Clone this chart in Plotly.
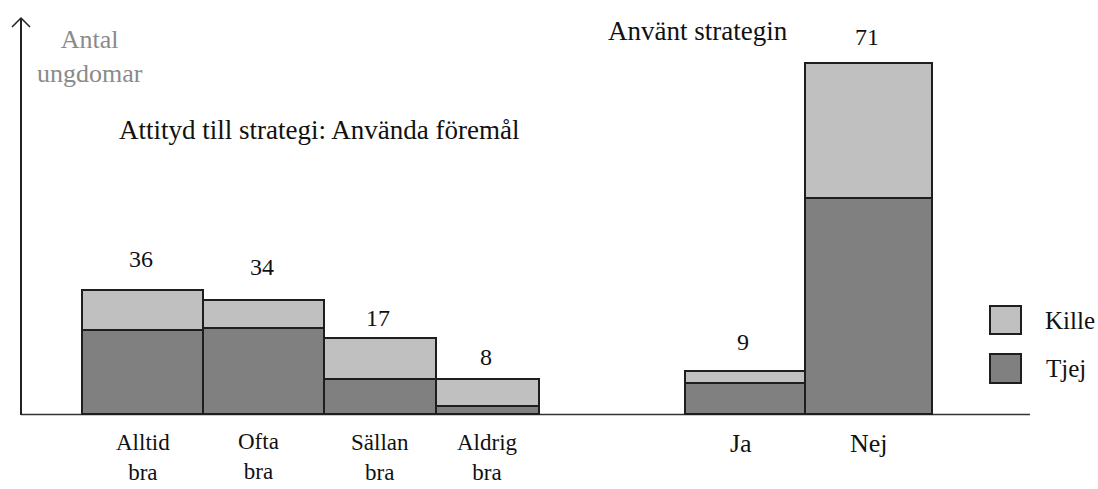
import plotly.graph_objects as go

# ---------------- data ----------------
categories = ["Alltid<br>bra", "Ofta<br>bra", "Sällan<br>bra", "Aldrig<br>bra", "Ja", "Nej"]
# bar segment heights as drawn in the picture (units where the "Nej" bar = 71)
tjej_values = [16.8, 17.2, 6.9, 1.6, 6.1, 43.5]
kille_values = [8.1, 5.7, 8.3, 5.3, 2.4, 27.5]
total_labels = ["36", "34", "17", "8", "9", "71"]
series_names = ["Tjej", "Kille"]

# ---------------- layout constants ----------------
W, H = 1098, 489
FONT = "Liberation Serif, Times New Roman, serif"
FS = 25
TJEJ_COLOR = "#808080"
KILLE_COLOR = "#c0c0c0"
EDGE = "#1e1e1e"

bar_left = [82, 203, 324, 436, 685, 805]
bar_right = [203, 324, 436, 539, 805, 932]
bar_center = [(a + b) / 2 for a, b in zip(bar_left, bar_right)]
bar_width = [b - a for a, b in zip(bar_left, bar_right)]

BASE_PX = 413.5          # pixel row of value 0
PX_PER_UNIT = 351 / 71   # vertical scale
y_min = -(H - BASE_PX) / PX_PER_UNIT
y_max = BASE_PX / PX_PER_UNIT

label_shift = [31, 33, 20, 22, 29, 26]        # px above bar top
cat_label_y = [457, 456, 457, 457, 443, 443]  # pixel centre of category labels
cat_label_dx = [0, -5, 0, 0, -4, 0]


def fx(p):
    return p / W


def fy(p):
    return 1 - p / H


fig = go.Figure()
fig.add_trace(go.Bar(
    x=bar_center, y=tjej_values, width=bar_width, name=series_names[0],
    marker=dict(color=TJEJ_COLOR, line=dict(color=EDGE, width=2)),
    showlegend=False, hoverinfo="skip"))
fig.add_trace(go.Bar(
    x=bar_center, y=kille_values, width=bar_width, name=series_names[1],
    marker=dict(color=KILLE_COLOR, line=dict(color=EDGE, width=2)),
    showlegend=False, hoverinfo="skip"))

shapes = []
# y axis line with open arrow head
shapes.append(dict(type="line", xref="paper", yref="paper",
                   x0=fx(21), x1=fx(21), y0=fy(415), y1=fy(18),
                   line=dict(color="#222222", width=2)))
shapes.append(dict(type="path", xref="paper", yref="paper",
                   path=f"M {fx(12)},{fy(27)} L {fx(21)},{fy(18)} L {fx(30)},{fy(27)}",
                   line=dict(color="#222222", width=1.5)))
# x axis line
shapes.append(dict(type="line", xref="paper", yref="paper",
                   x0=fx(21), x1=fx(1030), y0=fy(414.5), y1=fy(414.5),
                   line=dict(color="#333333", width=1.5), layer="below"))
# legend boxes
shapes.append(dict(type="rect", xref="paper", yref="paper",
                   x0=fx(990), x1=fx(1021), y0=fy(334), y1=fy(306),
                   fillcolor=KILLE_COLOR, line=dict(color=EDGE, width=2)))
shapes.append(dict(type="rect", xref="paper", yref="paper",
                   x0=fx(990), x1=fx(1021), y0=fy(383), y1=fy(354),
                   fillcolor=TJEJ_COLOR, line=dict(color=EDGE, width=2)))

ann = []
for i, lab in enumerate(total_labels):
    ann.append(dict(x=bar_center[i], y=tjej_values[i] + kille_values[i], xref="x", yref="y",
                    text=lab, showarrow=False, yanchor="middle", xanchor="center",
                    yshift=label_shift[i], xshift=-2,
                    font=dict(family=FONT, size=24, color="#111111")))
for i, cat in enumerate(categories):
    ann.append(dict(x=fx(bar_center[i] + cat_label_dx[i]), y=fy(cat_label_y[i]),
                    xref="paper", yref="paper", text=cat, showarrow=False,
                    xanchor="center", yanchor="middle", align="center",
                    font=dict(family=FONT, size=23 if "<br>" in cat else FS + 1,
                              color="#111111")))
ann.append(dict(x=fx(117), y=fy(130), xref="paper", yref="paper",
                text="Attityd till strategi: Använda föremål", showarrow=False,
                xanchor="left", yanchor="middle",
                font=dict(family=FONT, size=27, color="#111111")))
ann.append(dict(x=fx(606), y=fy(31), xref="paper", yref="paper",
                text="Använt strategin", showarrow=False,
                xanchor="left", yanchor="middle",
                font=dict(family=FONT, size=27, color="#111111")))
ann.append(dict(x=fx(90), y=fy(56), xref="paper", yref="paper",
                text="Antal<br>ungdomar", showarrow=False,
                xanchor="center", yanchor="middle", align="center",
                font=dict(family=FONT, size=26, color="#8a8a8a")))
ann.append(dict(x=fx(1043), y=fy(320), xref="paper", yref="paper",
                text=series_names[1], showarrow=False, xanchor="left", yanchor="middle",
                font=dict(family=FONT, size=FS, color="#111111")))
ann.append(dict(x=fx(1044), y=fy(368), xref="paper", yref="paper",
                text=series_names[0], showarrow=False, xanchor="left", yanchor="middle",
                font=dict(family=FONT, size=FS, color="#111111")))

fig.update_layout(
    width=W, height=H, barmode="stack", bargap=0,
    margin=dict(l=0, r=0, t=0, b=0),
    paper_bgcolor="white", plot_bgcolor="white",
    xaxis=dict(range=[0, W], visible=False, fixedrange=True),
    yaxis=dict(range=[y_min, y_max], visible=False, fixedrange=True),
    shapes=shapes, annotations=ann,
)

fig.write_html("out.html", config={"displayModeBar": False},
               post_script="document.body.style.margin='0';document.body.style.overflow='hidden';")
